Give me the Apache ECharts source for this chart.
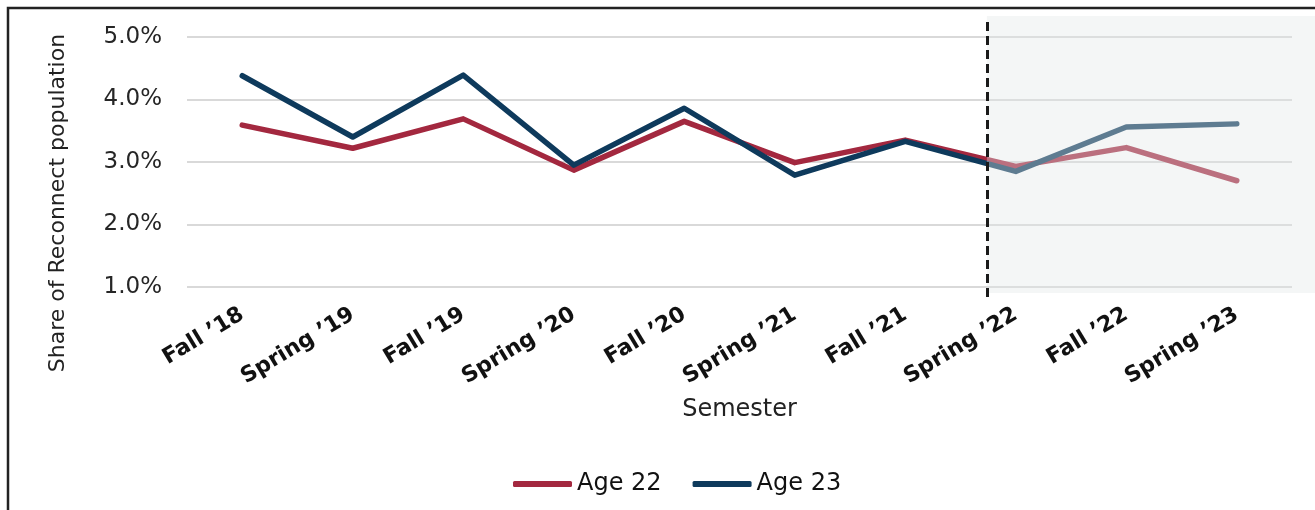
<!DOCTYPE html>
<html>
<head>
<meta charset="utf-8">
<script src="https://cdn.jsdelivr.net/npm/echarts@6/dist/echarts.min.js"></script>
<style>
  html, body { margin: 0; padding: 0; background: #fff; }
  #chart { width: 1315px; height: 510px; }
</style>
</head>
<body>
<div id="chart"></div>
<script>
// semesters on the x axis
var semesters = ["Fall \u201918", "Spring \u201919", "Fall \u201919", "Spring \u201920", "Fall \u201920",
  "Spring \u201921", "Fall \u201921", "Spring \u201922", "Fall \u201922", "Spring \u201923"];
// share of Reconnect population, in %
var age22 = [3.59, 3.22, 3.69, 2.87, 3.65, 2.99, 3.35, 2.93, 3.23, 2.70];
var age23 = [4.38, 3.40, 4.39, 2.95, 3.86, 2.79, 3.33, 2.85, 3.56, 3.61];
var yTicks = [1, 2, 3, 4, 5];
// where the shaded (projected) part starts, in category index units
var shadeStart = 6.74;

var red = '#a3283f';
var blue = '#0e3a5c';
var font = 'DejaVu Sans';

var chart = echarts.init(document.getElementById('chart'), null, { renderer: 'canvas' });

var option = {
  animation: false,
  backgroundColor: '#fff',
  textStyle: { fontFamily: font },
  graphic: [{
    type: 'rect', z: 0,
    shape: { x: 8, y: 8, width: 1400, height: 600 },
    style: { fill: 'none', stroke: '#222', lineWidth: 2.5 }
  }],
  legend: {
    data: [{ name: 'Age 22', icon: 'roundRect' }, { name: 'Age 23', icon: 'roundRect' }],
    left: 508, top: 467,
    itemWidth: 59, itemHeight: 6, itemGap: 31,
    textStyle: { fontSize: 24, color: '#111', fontFamily: font }
  },
  grid: [
    { left: 187, right: 23, top: 37, bottom: 223 },
    { left: 187, right: 0, top: 16, bottom: 217 },
    { left: 187, right: 0, top: 22, bottom: 213 }
  ],
  xAxis: [
    {
      type: 'category',
      data: semesters,
      boundaryGap: true,
      name: 'Semester',
      nameLocation: 'middle',
      nameGap: 111,
      nameTextStyle: { fontSize: 24, color: '#222', fontFamily: font },
      axisLine: { show: false },
      axisTick: { show: false },
      axisLabel: {
        rotate: 31, margin: 26, interval: 0,
        fontSize: 22, fontWeight: 'bold', color: '#111', fontFamily: font
      }
    },
    { type: 'value', gridIndex: 1, min: -0.5, max: 9.71, show: false },
    { type: 'value', gridIndex: 2, min: -0.5, max: 9.71, show: false }
  ],
  yAxis: [
    {
      type: 'value',
      min: yTicks[0], max: yTicks[yTicks.length - 1], interval: 1,
      name: 'Share of Reconnect population',
      nameLocation: 'middle',
      nameGap: 118,
      nameTextStyle: { fontSize: 22, color: '#222', fontFamily: font, padding: [0, 82, 0, 0] },
      axisLine: { show: false },
      axisTick: { show: false },
      axisLabel: {
        margin: 25, fontSize: 23, color: '#262626', fontFamily: font,
        formatter: function (v) { return v.toFixed(1) + '%'; }
      },
      splitLine: { show: true, lineStyle: { color: '#d9d9d9', width: 2 } }
    },
    { type: 'value', gridIndex: 1, min: 0, max: 1, show: false },
    { type: 'value', gridIndex: 2, min: 0, max: 1, show: false }
  ],
  series: [
    {
      name: 'Age 22', type: 'line', data: age22,
      symbol: 'none', z: 2,
      lineStyle: { color: red, width: 5.5, cap: 'round', join: 'round' },
      itemStyle: { color: red }
    },
    {
      name: 'Age 23', type: 'line', data: age23,
      symbol: 'none', z: 3,
      lineStyle: { color: blue, width: 5.5, cap: 'round', join: 'round' },
      itemStyle: { color: blue }
    },
    {
      name: 'shade', type: 'line', xAxisIndex: 1, yAxisIndex: 1,
      data: [], z: 10, silent: true,
      markArea: {
        silent: true, z: 10,
        itemStyle: { color: 'rgba(226,231,231,0.38)', borderWidth: 0 },
        data: [[{ coord: [shadeStart, 0] }, { coord: [9.71, 1] }]]
      }
    },
    {
      name: 'divider', type: 'line', xAxisIndex: 2, yAxisIndex: 2,
      data: [], z: 11, silent: true,
      markLine: {
        silent: true, z: 11, symbol: 'none',
        label: { show: false },
        lineStyle: { color: '#1a1a1a', width: 3, type: [9, 5] },
        data: [[{ coord: [shadeStart, 0] }, { coord: [shadeStart, 1] }]]
      }
    }
  ]
};

chart.setOption(option);
window.addEventListener('resize', chart.resize);
</script>
</body>
</html>
